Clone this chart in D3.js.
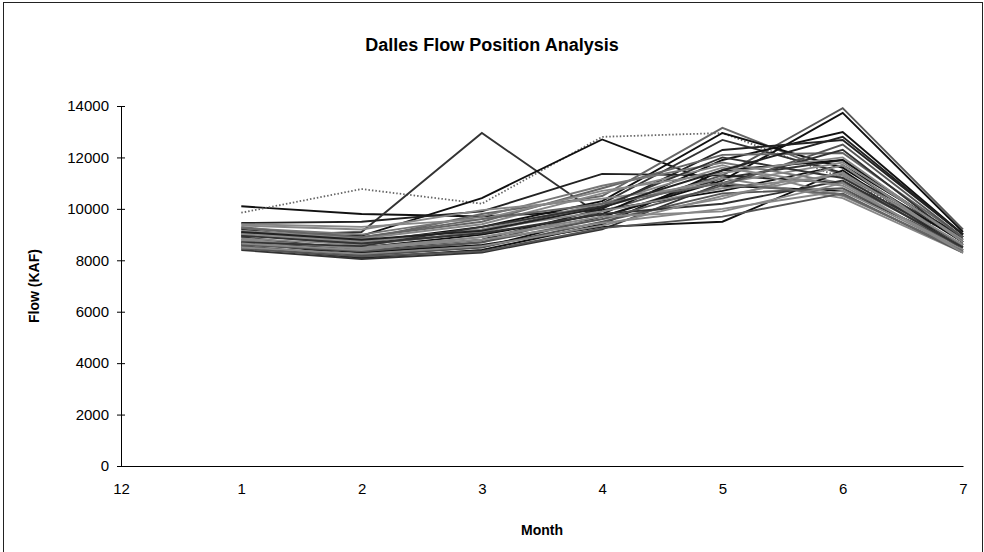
<!DOCTYPE html>
<html><head><meta charset="utf-8">
<script src="https://cdn.jsdelivr.net/npm/d3@7"></script>
<style>body{margin:0;background:#fff}svg{display:block}text{font-family:"Liberation Sans",Arial,sans-serif}</style>
</head><body>
<svg id="c" width="984" height="552"></svg>
<script>
const months = ["12","1","2","3","4","5","6","7"];
const yTicks = [0,2000,4000,6000,8000,10000,12000,14000];
// each series: flows for months 1..7 (KAF)
const s01 = [10100, 9800, 9700, 9950, 10700, 11700, 8900];
const s02 = [9850, 10770, 10200, 12800, 12950, 11200, 8800];
const s03 = [8950, 9100, 12950, 9700, 11200, 11900, 8700];
const s04 = [9050, 8950, 10420, 12700, 10900, 10700, 8600];
const s05 = [9450, 9500, 9900, 11360, 11300, 11000, 8900];
const s06 = [9300, 8800, 9800, 10500, 13150, 11300, 8800];
const s07 = [9200, 8700, 9300, 10300, 12950, 11600, 8700];
const s08 = [9000, 8600, 9100, 10200, 12680, 11400, 8900];
const s09 = [8800, 8300, 8700, 9900, 11300, 13920, 9200];
const s10 = [8700, 8200, 8500, 9700, 11100, 13730, 9100];
const s11 = [8600, 8500, 9000, 9800, 11900, 12990, 9000];
const s12 = [8900, 8400, 8800, 10000, 12290, 12680, 9000];
const s13 = [9100, 8900, 9500, 10800, 12100, 12170, 8900];
const s14 = [8500, 8100, 8400, 9400, 11500, 11900, 8800];
const s15 = [8400, 8050, 8300, 9200, 11000, 12300, 8700];
const s16 = [9250, 9000, 9700, 10900, 11800, 11000, 8600];
const s17 = [8750, 8500, 8900, 9600, 10400, 11700, 8500];
const s18 = [8650, 8300, 8600, 9300, 9500, 11500, 8400];
const s19 = [9000, 8700, 9200, 9900, 10800, 11300, 8300];
const s20 = [8550, 8200, 8500, 9500, 10600, 10800, 8500];
const s21 = [9150, 8850, 9400, 10600, 11700, 10500, 8400];
const s22 = [8850, 8600, 9100, 10100, 11200, 10420, 8300];
const s23 = [8450, 8150, 8350, 9250, 9700, 10600, 8300];
const s24 = [9350, 9200, 9950, 10400, 11000, 11800, 8800];
const s25 = [8950, 8650, 9050, 9800, 10200, 11100, 8500];
const s26 = [8600, 8350, 8700, 9600, 10900, 12500, 8900];
const s27 = [9050, 8750, 9200, 10200, 11600, 10900, 8400];
const s28 = [8800, 8450, 8800, 9450, 10000, 10700, 8400];
const s29 = [8700, 8550, 9300, 10100, 12000, 11200, 8600];
const s30 = [9400, 9300, 9600, 10700, 11400, 12000, 8700];
const s31 = [8500, 8250, 8550, 9350, 10500, 11400, 8600];
const s32 = [9250, 8900, 9600, 10200, 11000, 10550, 8350];
const s33 = [8650, 8400, 8900, 9700, 9900, 11000, 8300];
const s34 = [9100, 8800, 9150, 10050, 11500, 12800, 9000];
const seriesList = [s01,s02,s03,s04,s05,s06,s07,s08,s09,s10,s11,s12,s13,s14,s15,s16,s17,s18,s19,s20,s21,s22,s23,s24,s25,s26,s27,s28,s29,s30,s31,s32,s33,s34];
const shades = ["#111","dot","#333","#111","#222","#666","#111","#333","#555","#111","#111","#222","#666","#111","#333","#777","#888","#111","#888","#555","#888","#888","#555","#888","#333","#555","#888","#888","#333","#888","#888","#666","#888","#222"];

const svg = d3.select("#c");
svg.append("rect").attr("x",3.5).attr("y",2.5).attr("width",979).attr("height",600)
  .attr("fill","none").attr("stroke","#222").attr("stroke-width",1);

const x = d3.scalePoint().domain(months).range([121,963]);
const y = d3.scaleLinear().domain([0,14000]).range([466,106]);

const line = d3.line().x((d,i)=>x(months[i+1])).y(d=>y(d));
const g = svg.append("g");
seriesList.forEach((s,i)=>{
  const sh = shades[i];
  g.append("path").attr("d",line(s)).attr("fill","none")
    .attr("stroke", sh==="dot" ? "#666" : sh)
    .attr("stroke-width", sh==="dot" ? 1.8 : 1.9)
    .attr("stroke-dasharray", sh==="dot" ? "1.5,2" : null)
    .attr("stroke-linejoin","miter");
});

// y axis
const ya = svg.append("g").attr("transform","translate(121,0)")
  .call(d3.axisLeft(y).tickValues(yTicks).tickSize(0).tickPadding(12).tickFormat(d3.format("d")));
ya.select(".domain").attr("stroke","#000");
ya.selectAll("text").attr("font-size",15).attr("fill","#000").attr("font-family","Liberation Sans, Arial, sans-serif");
ya.selectAll(".tick").append("line").attr("x1",-4).attr("x2",4).attr("stroke","#000");

// x axis
const xa = svg.append("g").attr("transform","translate(0,466)")
  .call(d3.axisBottom(x).tickSize(0).tickPadding(17));
xa.select(".domain").attr("stroke","#000").attr("stroke-width",1.2);
xa.selectAll("text").attr("font-size",15).attr("fill","#000").attr("font-family","Liberation Sans, Arial, sans-serif");

svg.append("text").attr("x",492).attr("y",51).attr("text-anchor","middle")
  .attr("font-size",18).attr("font-weight","bold").text("Dalles Flow Position Analysis");
svg.append("text").attr("x",542).attr("y",535).attr("text-anchor","middle")
  .attr("font-size",14).attr("font-weight","bold").text("Month");
svg.append("text").attr("transform","translate(39,286) rotate(-90)").attr("text-anchor","middle")
  .attr("font-size",14).attr("font-weight","bold").text("Flow (KAF)");
</script>
</body></html>
